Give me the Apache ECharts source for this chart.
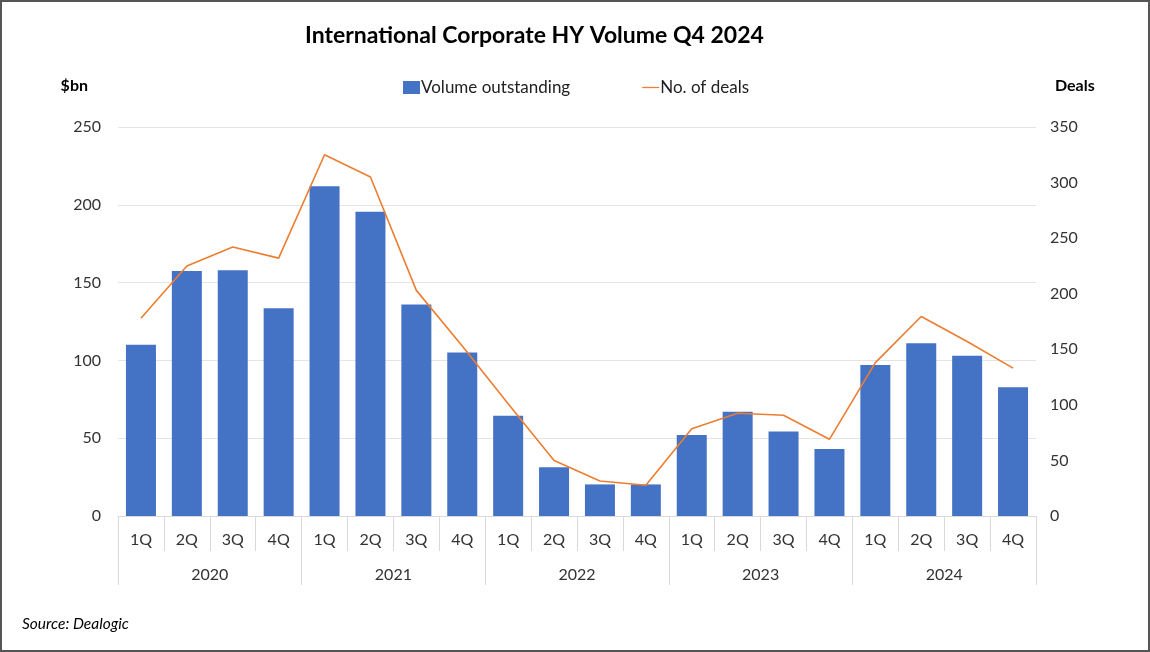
<!DOCTYPE html>
<html>
<head>
<meta charset="utf-8">
<script src="https://cdn.jsdelivr.net/npm/echarts@6/dist/echarts.min.js"></script>
<style>
html,body{margin:0;padding:0;background:#fff;}
#chart{width:1150px;height:652px;}
</style>
</head>
<body>
<div id="chart"></div>
<script>
var quarters = ['1Q','2Q','3Q','4Q','1Q','2Q','3Q','4Q','1Q','2Q','3Q','4Q','1Q','2Q','3Q','4Q','1Q','2Q','3Q','4Q'];
var years = ['2020','2021','2022','2023','2024'];
var volume = [110, 157.5, 158, 133.5, 212, 195.5, 136, 105, 64.5, 31.3, 20.3, 20.3, 52, 67, 54.3, 43, 97, 111, 103, 82.7];
var deals = [178, 225, 242, 232, 325, 305, 203, 153, 101, 50, 31.5, 27.6, 78.6, 92.4, 90.6, 69, 138, 179.5, 157, 133];
var leftTicks = [0, 50, 100, 150, 200, 250];
var rightTicks = [0, 50, 100, 150, 200, 250, 300, 350];

var FONT = 'Lato, "Open Sans", sans-serif';
var chart = echarts.init(document.getElementById('chart'));
chart.setOption({
  animation: false,
  backgroundColor: '#fff',
  textStyle: {fontFamily: FONT},
  title: {
    text: 'International Corporate HY Volume Q4 2024',
    left: 300, top: 19,
    textStyle: {fontFamily: FONT, fontSize: 23, fontWeight: 'bold', color: '#000'}
  },
  legend: {
    top: 74, left: 398,
    itemGap: 72,
    itemWidth: 17, itemHeight: 13,
    textStyle: {fontFamily: FONT, fontSize: 17, color: '#222', padding: [0,0,0,-4]},
    data: [
      {name: 'Volume outstanding', icon: 'rect'},
      {name: 'No. of deals', icon: 'path://M0,0 L40,0 L40,3 L0,3 Z'}
    ]
  },
  grid: {left: 118, right: 114, top: 127, bottom: 136},
  xAxis: [
    {
      type: 'category', data: quarters, position: 'bottom',
      axisLine: {show: true, lineStyle: {color: '#D9D9D9'}},
      axisTick: {show: true, interval: 0, length: 35, lineStyle: {color: '#D9D9D9'}},
      axisLabel: {interval: 0, margin: 16, fontSize: 16, color: '#333', fontFamily: FONT},
      splitLine: {show: false}
    },
    {
      type: 'category', data: years, position: 'bottom', gridIndex: 0,
      axisLine: {show: false},
      axisTick: {show: true, interval: 0, length: 69, lineStyle: {color: '#D9D9D9'}},
      axisLabel: {interval: 0, margin: 51, fontSize: 16, color: '#333', fontFamily: FONT},
      splitLine: {show: false}
    }
  ],
  yAxis: [
    {
      type: 'value', min: 0, max: 250, interval: 50,
      name: '$bn', nameLocation: 'end', nameGap: 33,
      nameTextStyle: {fontFamily: FONT, fontSize: 16, fontWeight: 'bold', color: '#000', align: 'right', padding: [0, 30, 0, 0]},
      axisLine: {show: false}, axisTick: {show: false},
      axisLabel: {fontSize: 16, color: '#333', margin: 17, fontFamily: FONT},
      splitLine: {lineStyle: {color: '#E4E4E4'}}
    },
    {
      type: 'value', min: 0, max: 350, interval: 50,
      name: 'Deals', nameLocation: 'end', nameGap: 33,
      nameTextStyle: {fontFamily: FONT, fontSize: 16, fontWeight: 'bold', color: '#000', align: 'left', padding: [0, 0, 0, 19]},
      axisLine: {show: false}, axisTick: {show: false},
      axisLabel: {fontSize: 16, color: '#333', margin: 14, fontFamily: FONT},
      splitLine: {show: false}
    }
  ],
  series: [
    {
      name: 'Volume outstanding', type: 'bar', data: volume,
      xAxisIndex: 0, yAxisIndex: 0, barWidth: 30,
      itemStyle: {color: '#4472C4'}
    },
    {
      name: 'No. of deals', type: 'line', data: deals,
      xAxisIndex: 0, yAxisIndex: 1,
      showSymbol: false, symbol: 'none',
      lineStyle: {color: '#ED7D31', width: 1.6},
      itemStyle: {color: '#ED7D31'}
    }
  ],
  graphic: [
    {
      type: 'text', left: 22, top: 616,
      style: {text: 'Source: Dealogic', fontFamily: FONT, fontSize: 15.5, fontStyle: 'italic', fill: '#000'}
    },
    {
      type: 'rect', shape: {x: 1, y: 1, width: 1148, height: 650},
      style: {fill: 'none', stroke: '#555', lineWidth: 2}, silent: true
    }
  ]
});
</script>
</body>
</html>
